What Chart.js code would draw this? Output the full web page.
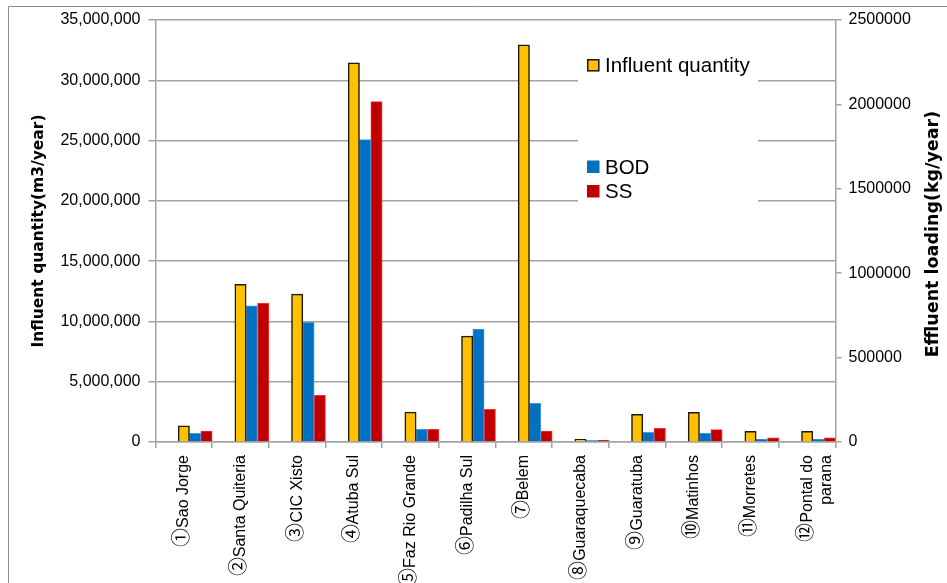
<!DOCTYPE html>
<html>
<head>
<meta charset="utf-8">
<script src="https://cdn.jsdelivr.net/npm/chart.js@4.4.1/dist/chart.umd.min.js"></script>
<style>
@font-face {
  font-family: "CircNum";
  src: local("Noto Sans CJK JP Regular"), local("NotoSansCJKjp-Regular"), local("Noto Sans CJK JP"), local("Noto Sans CJK SC Regular"), local("NotoSansCJKsc-Regular");
  unicode-range: U+2460-2473;
  size-adjust: 118%;
}
html,body{margin:0;padding:0;background:#fff;overflow:hidden;}
canvas{display:block;}
</style>
</head>
<body>
<canvas id="c" width="947" height="583"></canvas>
<script>
// ---- data ----
const categories = [
  "①Sao Jorge", "②Santa Quiteria", "③CIC Xisto", "④Atuba Sul",
  "⑤Faz Rio Grande", "⑥Padilha Sul", "⑦Belem", "⑧Guaraquecaba",
  "⑨Guaratuba", "⑩Matinhos", "⑪Morretes", ["⑫Pontal do", "parana"]
];
const influentQuantity = [1350000, 13080000, 12270000, 31450000, 2480000, 8780000, 32950000, 220000, 2300000, 2470000, 890000, 890000];
const bodLoading = [52000, 806000, 709000, 1791000, 75000, 669000, 229000, 8000, 57000, 52000, 18000, 18000];
const ssLoading = [65000, 822000, 277000, 2016000, 75000, 194000, 65000, 10000, 81000, 73000, 25000, 25000];
const seriesNames = ["Influent quantity", "BOD", "SS"];
const leftAxisTitle = "Influent quantity(m3/year)";
const rightAxisTitle = "Effluent loading(kg/year)";
const leftAxisMax = 35000000, leftAxisStep = 5000000;
const rightAxisMax = 2500000, rightAxisStep = 500000;

// ---- styles ----
const FONT = '"CircNum", "Liberation Sans", "Noto Sans CJK JP", sans-serif';
const TITLE_FONT = '"DejaVu Sans", "Noto Sans CJK JP", sans-serif';
const GRID = '#a3a3a3';
Chart.defaults.font.family = FONT;
Chart.defaults.color = '#000';

const framePlugin = {
  id: 'frame',
  beforeDraw(chart) {
    const ctx = chart.ctx;
    ctx.save();
    ctx.fillStyle = '#fff';
    ctx.fillRect(0, 0, chart.width, chart.height);
    ctx.strokeStyle = '#8c8c8c';
    ctx.lineWidth = 1;
    ctx.beginPath();
    ctx.moveTo(8.5, chart.height);
    ctx.lineTo(8.5, 6.5);
    ctx.lineTo(chart.width, 6.5);
    ctx.stroke();
    ctx.restore();
  }
};

const legendPlugin = {
  id: 'customLegend',
  afterDraw(chart) {
    const ctx = chart.ctx;
    ctx.save();
    ctx.fillStyle = '#fff';
    ctx.fillRect(578, 46, 180, 159);
    const rows = [{i: 2, y: 65.5}, {i: 3, y: 167}, {i: 4, y: 191.5}];
    ctx.font = '20.5px ' + FONT;
    ctx.textBaseline = 'middle';
    ctx.textAlign = 'left';
    rows.forEach(r => {
      const ds = chart.data.datasets[r.i];
      ctx.fillStyle = ds.backgroundColor;
      ctx.fillRect(587, r.y - 6.5, 12.5, 12.5);
      if (r.i === 2) {
        ctx.strokeStyle = '#1a1a1a';
        ctx.lineWidth = 1.5;
        ctx.strokeRect(587.75, r.y - 5.75, 11, 11);
      }
      ctx.fillStyle = '#000';
      ctx.fillText(ds.label, 605, r.y + 1);
    });
    // right axis title, reading bottom-to-top
    ctx.font = 'bold 17.5px ' + TITLE_FONT;
    ctx.textAlign = 'center';
    ctx.translate(933, 234);
    ctx.rotate(-Math.PI / 2);
    ctx.fillText(rightAxisTitle, 0, 0);
    ctx.restore();
  }
};

function build() {
  new Chart(document.getElementById('c'), {
    type: 'bar',
    data: {
      labels: categories,
      datasets: [
        {label: '', data: [], stack: 'p1', yAxisID: 'y'},
        {label: '', data: [], stack: 'p2', yAxisID: 'y'},
        {label: seriesNames[0], data: influentQuantity, stack: 's1', yAxisID: 'y',
          backgroundColor: '#FFC000', borderColor: '#1a1a1a', borderWidth: 1.5},
        {label: seriesNames[1], data: bodLoading, stack: 's2', yAxisID: 'y1',
          backgroundColor: '#0070C0', borderColor: '#4a98dc', borderWidth: 1},
        {label: seriesNames[2], data: ssLoading, stack: 's3', yAxisID: 'y1',
          backgroundColor: '#C00000', borderColor: '#ff2a2a', borderWidth: 1}
      ]
    },
    options: {
      responsive: false,
      animation: false,
      categoryPercentage: 1,
      barPercentage: 1,
      layout: {padding: {top: 20, left: 0, right: 0, bottom: 0}},
      plugins: {legend: {display: false}, tooltip: {enabled: false}},
      scales: {
        x: {
          afterFit(s) { s.height = 141; },
          grid: {display: true, drawOnChartArea: false, offset: true, tickLength: 6, color: GRID, lineWidth: 1.5},
          border: {display: true, color: GRID, width: 1.5},
          ticks: {maxRotation: 90, minRotation: 90, autoSkip: false, padding: 7, color: '#000',
            font: {size: 16, family: FONT}}
        },
        y: {
          position: 'left',
          min: 0, max: leftAxisMax,
          afterFit(s) { s.width = 155.5; },
          ticks: {stepSize: leftAxisStep, padding: 8, color: '#000', font: {size: 16, family: FONT},
            callback: v => Number(v).toLocaleString('en-US')},
          grid: {color: GRID, lineWidth: 1.5, tickLength: 7},
          border: {display: true, color: GRID, width: 1.5},
          title: {display: true, text: leftAxisTitle, color: '#000',
            font: {size: 15.5, weight: 'bold', family: TITLE_FONT}, padding: {top: 30, bottom: 0}}
        },
        y1: {
          position: 'right',
          min: 0, max: rightAxisMax,
          afterFit(s) { s.width = 111.5; },
          ticks: {stepSize: rightAxisStep, padding: 7, color: '#000', font: {size: 16, family: FONT},
            callback: v => String(v)},
          grid: {drawOnChartArea: false, color: GRID, lineWidth: 1.5, tickLength: 6},
          border: {display: true, color: GRID, width: 1.5}
        }
      }
    },
    plugins: [framePlugin, legendPlugin]
  });
}

if (document.fonts && document.fonts.load) {
  Promise.all([
    document.fonts.load('16px "CircNum"', '①⑫'),
    document.fonts.load('16px "Liberation Sans"', 'Sa'),
    document.fonts.load('bold 16px "DejaVu Sans"', 'Ef')
  ]).catch(() => {}).then(build);
} else {
  build();
}
</script>
</body>
</html>
